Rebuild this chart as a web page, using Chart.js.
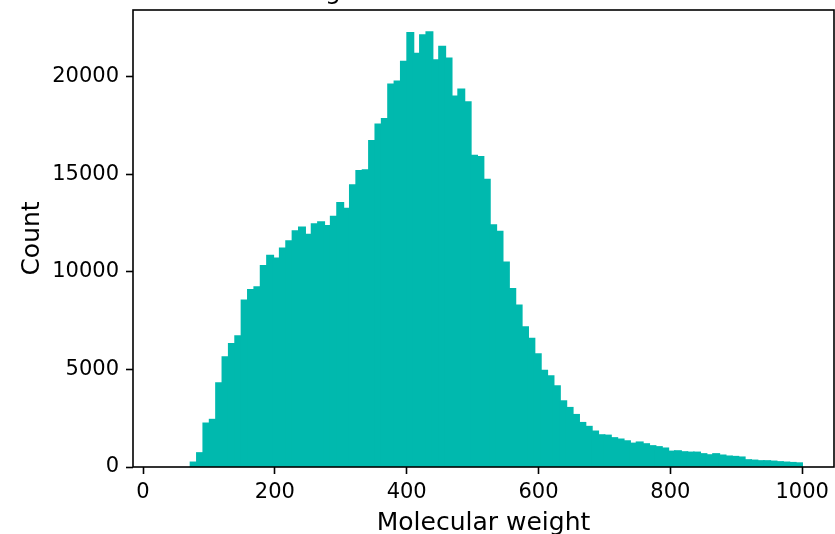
<!DOCTYPE html>
<html>
<head>
<meta charset="utf-8">
<script src="https://cdn.jsdelivr.net/npm/chart.js@4.4.1/dist/chart.umd.min.js"></script>
<style>
  html, body { margin: 0; padding: 0; background: #fff; }
  #wrap { width: 835px; height: 534px; }
</style>
</head>
<body>
<div id="wrap"><canvas id="histChart" width="835" height="534"></canvas></div>
<script>
// histogram: 100 bins from ~33.3 to 1000
const binStart = 33.33;
const binWidth = 9.667;
const counts = [
  0, 0, 0, 0, 240, 720, 2240, 2430, 4300, 5640,
  6320, 6720, 8550, 9080, 9230, 10320, 10840, 10700, 11210, 11590,
  12100, 12290, 11920, 12460, 12560, 12360, 12840, 13540, 13250, 14460,
  15180, 15230, 16730, 17570, 17850, 19620, 19780, 20790, 22260, 21200,
  22150, 22300, 20870, 21560, 20950, 19000, 19370, 18710, 15970, 15910,
  14740, 12410, 12070, 10500, 9130, 8290, 7180, 6580, 5790, 4940,
  4660, 4150, 3380, 3040, 2680, 2270, 2070, 1830, 1640, 1620,
  1490, 1420, 1330, 1210, 1270, 1180, 1080, 1030, 960, 800,
  820, 770, 750, 750, 670, 615, 670, 600, 550, 530,
  500, 360, 340, 310, 310, 290, 260, 240, 220, 200
];
const xTicks = [0, 200, 400, 600, 800, 1000];
const yTicks = [0, 5000, 10000, 15000, 20000];

const barColor = '#00b9ae';
const FONT = 'DejaVu Sans';

const points = counts.map((c, i) => ({ x: binStart + (i + 0.5) * binWidth, y: c }));

// axes frame (all four spines) + clipped title
const framePlugin = {
  id: 'frame',
  afterDraw(chart) {
    const { ctx, chartArea: a } = chart;
    ctx.save();
    ctx.strokeStyle = '#000';
    ctx.lineWidth = 1.6;
    ctx.strokeRect(a.left, a.top, a.right - a.left, a.bottom - a.top);
    // title mostly above the image, only a descender shows
    ctx.fillStyle = '#000';
    ctx.font = '25px "' + FONT + '"';
    ctx.textBaseline = 'alphabetic';
    const pre = ctx.measureText('Wei').width;
    ctx.fillText('Weight distribution', 325 - pre, -1);
    ctx.restore();
  }
};

const noPad = s => { s.paddingTop = 0; s.paddingBottom = 0; s.paddingLeft = 0; s.paddingRight = 0; };

new Chart(document.getElementById('histChart'), {
  type: 'bar',
  data: {
    datasets: [{
      data: points,
      backgroundColor: barColor,
      borderWidth: 0,
      barPercentage: 1,
      categoryPercentage: 1,
      // hides seams between neighbouring bins, empty bins stay empty
      inflateAmount: c => (c.raw && c.raw.y > 0 ? 0.8 : 0)
    }]
  },
  options: {
    responsive: false,
    animation: false,
    layout: { padding: { top: 10, right: 1, left: 0, bottom: 0 } },
    plugins: { legend: { display: false }, tooltip: { enabled: false } },
    scales: {
      x: {
        type: 'linear',
        min: -15.2,
        max: 1048.3,
        offset: false,
        afterBuildTicks: s => { s.ticks = xTicks.map(v => ({ value: v })); },
        afterFit: s => { s.height = 67; noPad(s); },
        grid: { display: true, offset: false, drawOnChartArea: false, drawTicks: true, tickLength: 7, tickWidth: 1.6, tickColor: '#000' },
        border: { display: false },
        ticks: { color: '#000', padding: 6, maxRotation: 0, font: { family: FONT, size: 21 }, callback: v => String(v) },
        title: { display: true, text: 'Molecular weight', color: '#000', font: { family: FONT, size: 25, lineHeight: 1 }, padding: { top: 0, bottom: -1.5 } }
      },
      y: {
        min: 0,
        max: 23430,
        afterBuildTicks: s => { s.ticks = yTicks.map(v => ({ value: v })); },
        afterFit: s => { s.width = 133; noPad(s); },
        grid: { display: true, drawOnChartArea: false, drawTicks: true, tickLength: 7, tickWidth: 1.6, tickColor: '#000' },
        border: { display: false },
        ticks: { color: '#000', padding: 7, font: { family: FONT, size: 21 }, callback: v => String(v) },
        title: { display: true, text: 'Count', color: '#000', font: { family: FONT, size: 25, lineHeight: 1 }, padding: { top: 20, bottom: 0 } }
      }
    }
  },
  plugins: [framePlugin]
});
</script>
</body>
</html>
